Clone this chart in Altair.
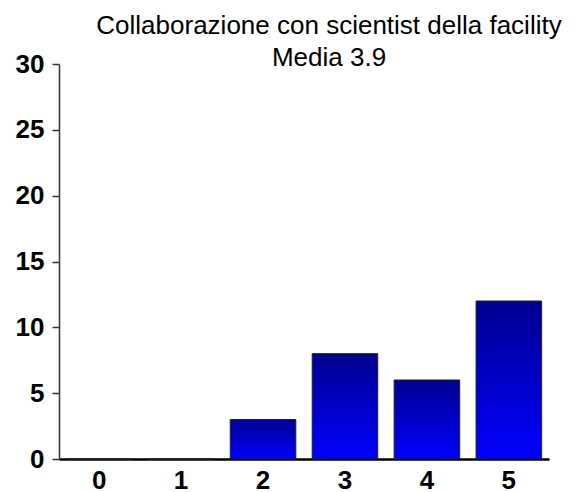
import altair as alt
import pandas as pd

categories = ["0", "1", "2", "3", "4", "5"]
counts = [0, 0, 3, 8, 6, 12]
title_lines = ["Collaborazione con scientist della facility", "Media 3.9"]
y_ticks = [0, 5, 10, 15, 20, 25, 30]

df = pd.DataFrame({"cat": categories, "n": counts})

gradient = alt.Gradient(
    gradient="linear",
    stops=[alt.GradientStop(color="#000090", offset=0),
           alt.GradientStop(color="#0000FF", offset=1)],
    x1=0, x2=0, y1=0, y2=1,
)

chart = (
    alt.Chart(df)
    .mark_bar(color=gradient, stroke="#222222", strokeWidth=1)
    .encode(
        x=alt.X("cat:N", sort=categories,
                scale=alt.Scale(paddingInner=0.2, paddingOuter=0.09),
                axis=alt.Axis(title=None, labelAngle=0, ticks=False,
                              labelFont="Liberation Sans", labelFontWeight="bold",
                              labelFontSize=26, labelColor="black", labelPadding=8,
                              domainColor="black", domainWidth=2.5)),
        y=alt.Y("n:Q", scale=alt.Scale(domain=[0, 30], nice=False),
                axis=alt.Axis(title=None, values=y_ticks, grid=False,
                              tickSize=7, tickColor="#333333", tickWidth=1.5,
                              labelFont="Liberation Sans", labelFontWeight="bold",
                              labelFontSize=26, labelColor="black", labelPadding=8,
                              domainColor="#333333", domainWidth=1.5)),
    )
    .properties(
        width=490, height=395,
        autosize="none",
        padding={"left": 51, "top": 56, "right": 19, "bottom": 40},
        title=alt.TitleParams(
            text=title_lines, font="Liberation Sans", fontSize=26,
            fontWeight="normal", color="black", anchor="middle",
            dx=25, dy=20, offset=0, lineHeight=32,
        ),
    )
    .configure_view(stroke=None)
)

chart.save("out.html", embed_options={"renderer": "svg", "actions": False})
